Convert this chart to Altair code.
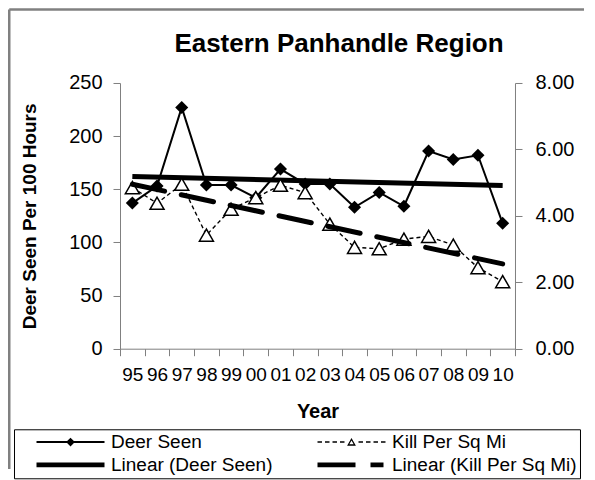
import altair as alt
import pandas as pd

# ---------------- data ----------------
years = ["95", "96", "97", "98", "99", "00", "01", "02",
         "03", "04", "05", "06", "07", "08", "09", "10"]
deer_seen = [137, 153, 227, 154, 154, 142, 169, 155,
             155, 133, 147, 134, 186, 178, 182, 118]
kill_per_sq_mi = [4.85, 4.38, 4.95, 3.42, 4.20, 4.55, 4.92, 4.70,
                  3.75, 3.05, 3.01, 3.30, 3.38, 3.12, 2.44, 2.02]
series_names = ["Deer Seen", "Kill Per Sq Mi",
                "Linear (Deer Seen)", "Linear (Kill Per Sq Mi)"]
left_ticks = [0, 50, 100, 150, 200, 250]
right_ticks = [0, 2, 4, 6, 8]
title_text = "Eastern Panhandle Region"
x_title = "Year"
y_left_title = "Deer Seen Per 100 Hours"

# ---------------- styling ----------------
FONT = "Liberation Sans"
GRAY = "#808080"
W, H = 395, 265.7

df = pd.DataFrame({"year": years, "idx": list(range(len(years))),
                   "deer": deer_seen, "kill": kill_per_sq_mi})
years_js = "[" + ",".join("'" + y + "'" for y in years) + "]"

x_enc = alt.X(
    "year:N", sort=years,
    scale=alt.Scale(type="band", paddingInner=0, paddingOuter=0),
    axis=alt.Axis(title=x_title, labelAngle=0, tickBand="extent", grid=False,
                  labelFont=FONT, labelFontSize=19, labelColor="black",
                  labelPadding=10, labelOverlap=False, labelBound=False,
                  tickSize=7, tickColor=GRAY, domainColor=GRAY,
                  titleFont=FONT, titleFontSize=20, titleFontWeight="bold",
                  titleColor="black", titlePadding=17))

left_scale = alt.Scale(domain=[0, 250], nice=False)
left_axis = alt.Axis(title=y_left_title, orient="left", values=left_ticks, grid=False,
                     labelFont=FONT, labelFontSize=20, labelColor="black",
                     labelPadding=11, tickSize=7, tickColor=GRAY, domainColor=GRAY,
                     titleFont=FONT, titleFontSize=19, titleFontWeight="bold",
                     titleColor="black", titlePadding=29)
right_scale = alt.Scale(domain=[0, 8], nice=False)
right_axis = alt.Axis(title=None, orient="right", values=right_ticks, format=".2f",
                      grid=False, labelFont=FONT, labelFontSize=20, labelColor="black",
                      labelPadding=13, tickSize=7, tickColor=GRAY, domainColor=GRAY)

base = alt.Chart(df)

deer_line = base.mark_line(color="black", strokeWidth=2).encode(
    x=x_enc, y=alt.Y("deer:Q", scale=left_scale, axis=left_axis))
deer_pts = base.mark_point(shape="diamond", filled=True, color="black",
                           size=170, opacity=1).encode(
    x=x_enc, y=alt.Y("deer:Q", scale=left_scale, axis=left_axis))
deer_trend = base.transform_regression("idx", "deer").transform_calculate(
    year=years_js + "[datum.idx]").mark_line(color="black", strokeWidth=5).encode(
    x=x_enc, y=alt.Y("deer:Q", scale=left_scale, axis=left_axis))

kill_line = base.mark_line(color="black", strokeWidth=1.4, strokeDash=[4, 3]).encode(
    x=x_enc, y=alt.Y("kill:Q", scale=right_scale, axis=right_axis))
kill_pts = base.mark_point(shape="triangle-up", fill="white", fillOpacity=1,
                           stroke="black", strokeWidth=1.5, size=196, opacity=1).encode(
    x=x_enc, y=alt.Y("kill:Q", scale=right_scale, axis=right_axis))
kill_trend = base.transform_regression("idx", "kill").transform_calculate(
    year=years_js + "[datum.idx]").mark_line(
    color="black", strokeWidth=5, strokeDash=[33, 17], strokeCap="round").encode(
    x=x_enc, y=alt.Y("kill:Q", scale=right_scale, axis=right_axis))

left_group = alt.layer(deer_line, deer_pts, deer_trend)
right_group = alt.layer(kill_line, kill_pts, kill_trend)

# ---------------- legend symbols as custom paths (unit = 8 px) ----------------
def rect(x0, x1, h):
    return f"M{x0},{-h}H{x1}V{h}H{x0}Z"

half = 4.25
sym_deer = rect(-half, half, 0.125) + "M0,-0.55L0.55,0L0,0.55L-0.55,0Z"
dash_parts = []
pos = -half
for _ in range(4):
    dash_parts.append(rect(round(pos, 4), round(pos + 0.5625, 4), 0.09))
    dash_parts.append(rect(round(-pos - 0.5625, 4), round(-pos, 4), 0.09))
    pos += 0.9375
sym_kill = "".join(dash_parts) + \
    "M0,-0.5L0.55,0.45L-0.55,0.45Z" + "M0,-0.18L-0.272,0.29L0.272,0.29Z"
sym_trend_deer = rect(-half, half, 0.3)
sym_trend_kill = rect(-half, 0.5, 0.3) + rect(2.375, 4.0, 0.3)
symbol_paths = [sym_deer, sym_kill, sym_trend_deer, sym_trend_kill]

legend_layer = alt.Chart(pd.DataFrame({"series": series_names})).transform_filter(
    "false").mark_point(filled=True, color="black", size=256, opacity=1).encode(
    shape=alt.Shape(
        "series:N",
        scale=alt.Scale(domain=series_names, range=symbol_paths),
        legend=alt.Legend(title=None, orient="none", legendX=-106, legendY=346.3,
                          direction="horizontal", columns=2, symbolSize=256,
                          symbolOffset=44, labelOffset=31, symbolFillColor="black",
                          symbolStrokeWidth=0, labelFont=FONT, labelFontSize=19,
                          labelColor="black", labelLimit=400, columnPadding=25,
                          rowPadding=3, padding=3, strokeColor="black")))

one = alt.Data(values=[{"a": 1}])
frame_top = alt.Chart(one).mark_rule(color=GRAY, strokeWidth=2.5).encode(
    x=alt.value(-110.75), x2=alt.value(464), y=alt.value(-73.45))
frame_left = alt.Chart(one).mark_rule(color=GRAY, strokeWidth=2.5).encode(
    x=alt.value(-110.75), y=alt.value(-73.45), y2=alt.value(386))

title_layer = alt.Chart(alt.Data(values=[{"t": title_text}])).mark_text(
    font=FONT, fontSize=26, fontWeight="bold", align="center",
    baseline="alphabetic", color="black").encode(
    text="t:N", x=alt.value(219), y=alt.value(-30.7))

chart = alt.layer(left_group, right_group, legend_layer,
                  frame_top, frame_left, title_layer).resolve_scale(
    y="independent").properties(
    width=W, height=H,
    padding={"left": 0, "top": 0, "right": 0, "bottom": 0}).configure_view(strokeWidth=0)

chart.save("out.html", embed_options={"renderer": "svg", "actions": False})
